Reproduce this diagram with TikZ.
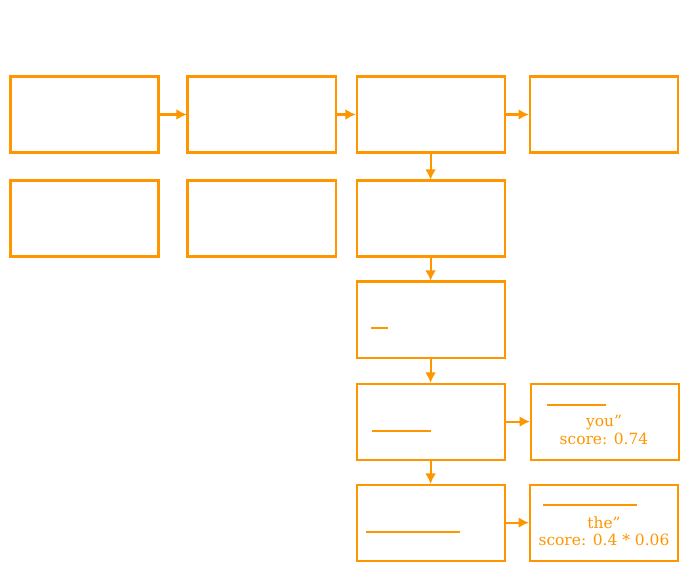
\documentclass[tikz,border=0pt]{standalone}
\usepackage{fontspec}
\setmainfont{DejaVu Serif}
\usetikzlibrary{positioning}
\usetikzlibrary{arrows.meta,shapes}
\definecolor{tangerine}{HTML}{FF9600}

\begin{document}
\begin{tikzpicture}
    [x=0.025cm, y=-0.025cm,
    node distance=0.7cm and 0.725cm,
    post/.style={->,
    	         tangerine,
    	         shorten >=0.5pt,
    	         >={Latex[length=2.6mm,width=2.7mm]},
    	         line width=1.5pt},
    stage/.style={rectangle,
    	       draw=tangerine,
    	       line width=1.5pt,
    	       inner sep=0pt,
    	       outer sep=0pt,
    	       minimum width=3.7cm,
    	       minimum height=1.9cm},
    uline/.style={tangerine,
    	       line width=1.5pt},
    score/.style={text=tangerine,
    	       align=center,
    	       font=\fontsize{11}{12.2}\selectfont}]
    \useasboundingbox (0,0) rectangle (690,566);
    % top row
    \node [stage] (Raw) at (84.5,114.5) {};
    \node [stage, right=0.725cm of Raw] (Clean) {};
    \node [stage, right=0.525cm of Clean] (Model) {};
    \node [stage, right=0.625cm of Model] (Output) {};
    % second row
    \node [stage, below=of Raw] (NoteA) {};
    \node [stage, below=of Clean] (NoteB) {};
    \node [stage, below=of Model] (Decode) {};
    % search column
    \node [stage, below=0.625cm of Decode] (Expand) {};
    \node [stage, below=0.65cm of Expand] (PickA) {};
    \node [stage, below=0.625cm of PickA] (PickB) {};
    \node [stage, right=0.65cm of PickA] (ScoreA) {};
    \node [stage, right=0.625cm of PickB] (ScoreB) {};
    % scores
    \node [score] (TextA) at (604,430) {you”\\score: 0.74};
    \node [score] (TextB) at (604,531) {the”\\score: 0.4 * 0.06};
    % underlines
    \draw[uline] (371,328) -- (388,328);
    \draw[uline] (372,431) -- (431,431);
    \draw[uline] (366,532) -- (460,532);
    \draw[uline] (547,405) -- (606,405);
    \draw[uline] (543,505) -- (637,505);
    % arrows
    \draw[post] (Raw) -- (Clean);
    \draw[post] (Clean) -- (Model);
    \draw[post] (Model) -- (Output);
    \draw[post] (Model) -- (Decode);
    \draw[post] (Decode) -- (Expand);
    \draw[post] (Expand) -- (PickA);
    \draw[post] (PickA) -- (PickB);
    \draw[post] (PickA) -- (ScoreA);
    \draw[post] (PickB) -- (ScoreB);
\end{tikzpicture}
\end{document}
